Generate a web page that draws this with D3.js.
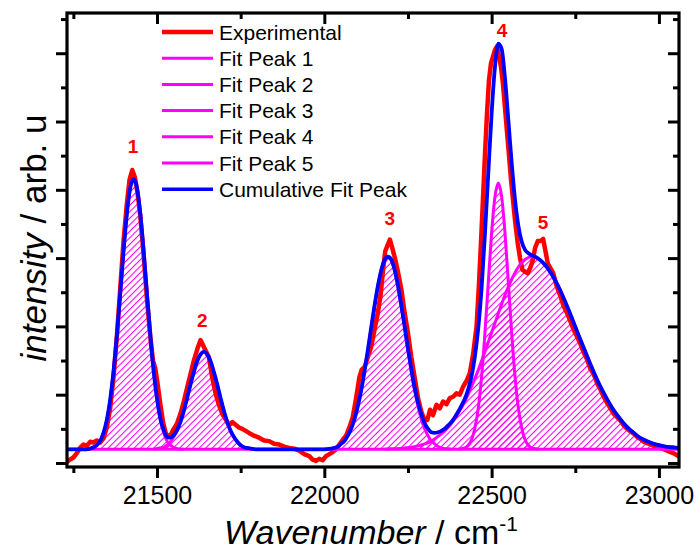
<!DOCTYPE html>
<html><head><meta charset="utf-8">
<script src="https://cdn.jsdelivr.net/npm/d3@7"></script>
<style>
body{margin:0;background:#fff}
svg{display:block}
text{font-family:Arial,"Liberation Sans",Helvetica,sans-serif}
</style>
</head><body>
<svg id="chart" width="697" height="553"></svg>
<script>
// ---------------- DATA ----------------
const xDomain = [21231, 23060];
const yDomain = [-0.059, 6.589];
const xMajorTicks = [21500, 22000, 22500, 23000];
const xMinorTicks = [21250, 21750, 22250, 22750];
const yMajorTicks = [0, 1, 2, 3, 4, 5, 6];
const yMinorTicks = [0.5, 1.5, 2.5, 3.5, 4.5, 5.5, 6.5];

const seriesNames = ["Experimental", "Fit Peak 1", "Fit Peak 2", "Fit Peak 3", "Fit Peak 4", "Fit Peak 5", "Cumulative Fit Peak"];

const fitBaseline = [[21231, 0.20], [23060, 0.20]];

const experimental = [
[21232,0.02],[21240,0.05],[21250,0.08],[21260,0.14],[21270,0.22],[21280,0.27],[21290,0.25],[21300,0.31],
[21310,0.30],[21320,0.33],[21330,0.30],[21340,0.36],[21350,0.52],[21360,0.80],[21370,1.25],[21380,1.85],
[21390,2.55],[21400,3.25],[21410,3.80],[21418,4.15],[21426,4.29],[21434,4.18],[21442,3.95],[21450,3.62],
[21460,3.05],[21470,2.40],[21480,1.85],[21488,1.50],[21495,1.38],[21502,1.15],[21510,0.86],[21518,0.60],
[21526,0.44],[21534,0.38],[21542,0.42],[21550,0.50],[21560,0.58],[21570,0.72],[21580,0.90],[21590,1.10],
[21600,1.30],[21610,1.50],[21620,1.66],[21630,1.80],[21638,1.72],[21646,1.64],[21655,1.55],[21665,1.25],
[21675,1.02],[21685,0.85],[21695,0.72],[21705,0.64],[21715,0.55],[21725,0.60],[21735,0.56],[21745,0.52],
[21755,0.50],[21765,0.47],[21775,0.44],[21790,0.40],[21805,0.37],[21820,0.33],[21835,0.32],[21850,0.28],
[21865,0.27],[21880,0.24],[21895,0.22],[21910,0.21],[21925,0.18],[21940,0.13],[21955,0.10],[21965,0.05],
[21975,0.03],[21985,0.06],[21995,0.04],[22005,0.10],[22015,0.13],[22025,0.16],[22035,0.20],[22045,0.27],
[22055,0.34],[22065,0.40],[22075,0.52],[22085,0.67],[22095,0.95],[22105,1.26],[22112,1.37],[22120,1.40],
[22130,1.55],[22140,1.70],[22150,1.95],[22160,2.20],[22168,2.45],[22175,2.80],[22182,3.10],[22190,3.20],
[22196,3.27],[22203,3.15],[22211,3.00],[22220,2.80],[22230,2.55],[22240,2.20],[22250,1.90],[22260,1.55],
[22270,1.25],[22280,0.95],[22290,0.75],[22300,0.62],[22308,0.63],[22316,0.78],[22325,0.70],[22335,0.85],
[22345,0.80],[22355,0.90],[22365,0.86],[22375,0.95],[22385,0.97],[22395,1.02],[22405,1.00],[22415,1.12],
[22425,1.20],[22435,1.32],[22445,1.60],[22455,2.00],[22462,2.60],[22468,3.20],[22474,3.85],[22480,4.50],
[22486,5.10],[22492,5.60],[22498,5.85],[22504,5.95],[22510,6.05],[22516,6.10],[22522,5.95],[22528,5.80],
[22534,5.55],[22540,5.20],[22546,4.85],[22552,4.50],[22558,4.15],[22564,3.85],[22570,3.55],[22578,3.22],
[22585,3.00],[22592,2.83],[22600,2.80],[22608,2.78],[22615,2.85],[22622,2.95],[22630,3.15],[22638,3.25],
[22646,3.25],[22654,3.28],[22661,3.10],[22668,2.92],[22676,2.85],[22684,2.78],[22694,2.60],[22705,2.45],
[22715,2.30],[22725,2.20],[22735,2.08],[22745,1.95],[22755,1.85],[22765,1.75],[22775,1.62],[22785,1.52],
[22795,1.38],[22805,1.30],[22815,1.17],[22825,1.08],[22835,0.97],[22845,0.88],[22855,0.80],[22865,0.72],
[22875,0.67],[22885,0.62],[22895,0.55],[22905,0.50],[22915,0.46],[22925,0.43],[22935,0.38],[22945,0.35],
[22955,0.31],[22965,0.29],[22975,0.27],[22985,0.25],[22995,0.23],[23005,0.22],[23015,0.20],[23025,0.18],
[23035,0.16],[23045,0.14],[23055,0.11],[23060,0.10]
];

const fitPeak1 = [
[21280,0.20],[21290,0.20],[21300,0.21],[21310,0.23],[21320,0.26],[21330,0.32],[21340,0.44],[21350,0.63],
[21360,0.93],[21370,1.34],[21380,1.87],[21390,2.48],[21400,3.10],[21410,3.65],[21420,4.03],[21430,4.16],
[21440,4.03],[21450,3.65],[21460,3.10],[21470,2.48],[21480,1.87],[21490,1.34],[21500,0.93],[21510,0.63],
[21520,0.44],[21530,0.32],[21540,0.26],[21550,0.23],[21560,0.21],[21570,0.20],[21580,0.20]
];
const fitPeak2 = [
[21490,0.20],[21500,0.21],[21510,0.22],[21520,0.23],[21530,0.26],[21540,0.31],[21550,0.38],[21560,0.47],
[21570,0.60],[21580,0.76],[21590,0.95],[21600,1.15],[21610,1.33],[21620,1.49],[21630,1.59],[21640,1.63],
[21650,1.59],[21660,1.49],[21670,1.33],[21680,1.15],[21690,0.95],[21700,0.76],[21710,0.60],[21720,0.47],
[21730,0.38],[21740,0.31],[21750,0.26],[21760,0.23],[21770,0.22],[21780,0.21],[21790,0.20]
];
const fitPeak3 = [
[22000,0.20],[22010,0.21],[22020,0.21],[22030,0.22],[22040,0.24],[22050,0.28],[22060,0.32],[22070,0.40],
[22080,0.50],[22090,0.64],[22100,0.83],[22110,1.06],[22120,1.34],[22130,1.65],[22140,1.98],[22150,2.30],
[22160,2.59],[22170,2.82],[22180,2.97],[22190,3.02],[22200,2.97],[22210,2.82],[22220,2.59],[22230,2.30],
[22240,1.98],[22250,1.65],[22260,1.34],[22270,1.06],[22280,0.83],[22290,0.64],[22300,0.50],[22310,0.40],
[22320,0.32],[22330,0.28],[22340,0.24],[22350,0.22],[22360,0.21],[22370,0.21],[22380,0.20]
];
const fitPeak4 = [
[22400,0.20],[22410,0.21],[22420,0.22],[22430,0.26],[22440,0.34],[22450,0.51],[22460,0.80],[22470,1.26],
[22480,1.90],[22490,2.64],[22500,3.37],[22510,3.90],[22520,4.10],[22530,3.90],[22540,3.37],[22550,2.64],
[22560,1.90],[22570,1.26],[22580,0.80],[22590,0.51],[22600,0.34],[22610,0.26],[22620,0.22],[22630,0.21],
[22640,0.20]
];
const fitPeak5 = [
[22180,0.20],[22200,0.21],[22220,0.21],[22240,0.22],[22260,0.23],[22280,0.25],[22300,0.28],[22320,0.32],
[22340,0.39],[22360,0.47],[22380,0.58],[22400,0.73],[22420,0.90],[22440,1.12],[22460,1.36],[22480,1.63],
[22500,1.91],[22520,2.19],[22540,2.46],[22560,2.69],[22580,2.87],[22600,2.98],[22620,3.02],[22640,2.99],
[22660,2.90],[22680,2.76],[22700,2.58],[22720,2.36],[22740,2.12],[22760,1.87],[22780,1.63],[22800,1.39],
[22820,1.17],[22840,0.98],[22860,0.81],[22880,0.67],[22900,0.55],[22920,0.46],[22940,0.38],[22960,0.33],
[22980,0.29],[23000,0.26],[23020,0.24],[23040,0.23],[23060,0.22]
];
const cumulativeFit = [
[21231,0.20],[21260,0.20],[21290,0.20],[21300,0.21],[21310,0.23],[21320,0.26],[21330,0.32],[21340,0.44],
[21350,0.63],[21360,0.93],[21370,1.34],[21380,1.87],[21390,2.48],[21400,3.10],[21410,3.65],[21420,4.03],
[21430,4.16],[21440,4.03],[21450,3.65],[21460,3.10],[21470,2.48],[21480,1.87],[21490,1.34],[21500,0.94],
[21510,0.65],[21520,0.48],[21530,0.38],[21540,0.37],[21550,0.41],[21560,0.48],[21570,0.60],[21580,0.76],
[21590,0.95],[21600,1.15],[21610,1.33],[21620,1.49],[21630,1.59],[21640,1.63],[21650,1.59],[21660,1.49],
[21670,1.33],[21680,1.15],[21690,0.95],[21700,0.76],[21710,0.60],[21720,0.47],[21730,0.38],[21740,0.31],
[21750,0.26],[21760,0.23],[21770,0.22],[21780,0.21],[21800,0.20],[21900,0.20],[22000,0.20],[22020,0.21],
[22040,0.24],[22050,0.28],[22060,0.32],[22070,0.40],[22080,0.50],[22090,0.64],[22100,0.83],[22110,1.06],
[22120,1.34],[22130,1.65],[22140,1.98],[22150,2.30],[22160,2.59],[22170,2.82],[22180,2.97],[22190,3.02],
[22200,2.98],[22210,2.83],[22220,2.60],[22230,2.31],[22240,2.00],[22250,1.67],[22260,1.37],[22270,1.10],
[22280,0.88],[22290,0.71],[22300,0.58],[22310,0.50],[22320,0.45],[22330,0.44],[22340,0.45],[22350,0.47],
[22360,0.50],[22370,0.55],[22380,0.60],[22390,0.67],[22400,0.75],[22410,0.84],[22420,0.94],[22430,1.08],
[22440,1.27],[22450,1.56],[22460,1.97],[22470,2.56],[22480,3.35],[22490,4.24],[22500,5.12],[22510,5.80],
[22520,6.14],[22530,6.06],[22540,5.63],[22550,5.02],[22560,4.39],[22570,3.85],[22580,3.47],[22590,3.24],
[22600,3.12],[22610,3.07],[22620,3.04],[22630,3.02],[22640,2.99],[22660,2.90],[22680,2.76],[22700,2.58],
[22720,2.36],[22740,2.12],[22760,1.87],[22780,1.63],[22800,1.39],[22820,1.17],[22840,0.98],[22860,0.81],
[22880,0.67],[22900,0.55],[22920,0.46],[22940,0.38],[22960,0.33],[22980,0.29],[23000,0.26],[23020,0.24],
[23040,0.23],[23060,0.22]
];

const peakLabelText = ["1", "2", "3", "4", "5"];
const peakLabelX = [21428, 21635, 22196, 22531, 22654];
const peakLabelY = [4.64, 2.09, 3.59, 6.34, 3.53];

// ---------------- DRAW ----------------
const plot = {left: 67, right: 679, top: 13, bottom: 467};
const RED = "#ff0000", PINK = "#ff00ff", BLUE = "#0000ff";

const svg = d3.select("#chart");
const x = d3.scaleLinear().domain(xDomain).range([plot.left, plot.right]);
const y = d3.scaleLinear().domain(yDomain).range([plot.bottom, plot.top]);

const defs = svg.append("defs");
defs.append("clipPath").attr("id", "clip").append("rect")
  .attr("x", plot.left).attr("y", plot.top)
  .attr("width", plot.right - plot.left).attr("height", plot.bottom - plot.top);
const pat = defs.append("pattern").attr("id", "hatch")
  .attr("patternUnits", "userSpaceOnUse").attr("width", 4.6).attr("height", 4.6)
  .attr("patternTransform", "rotate(45)");
pat.append("line").attr("x1", 2.3).attr("y1", 0).attr("x2", 2.3).attr("y2", 4.6)
  .attr("stroke", PINK).attr("stroke-width", 1.1);

const g = svg.append("g").attr("clip-path", "url(#clip)");

const line = d3.line().x(d => x(d[0])).y(d => y(d[1]));
const smooth = d3.line().x(d => x(d[0])).y(d => y(d[1])).curve(d3.curveMonotoneX);
const area = d3.area().x(d => x(d[0])).y0(y(fitBaseline[0][1])).y1(d => y(d[1])).curve(d3.curveMonotoneX);

const peaks = [fitPeak1, fitPeak2, fitPeak3, fitPeak4, fitPeak5];

// hatched areas
peaks.forEach(p => g.append("path").datum(p).attr("d", area).attr("fill", "url(#hatch)"));

// experimental
g.append("path").datum(experimental).attr("d", line)
  .attr("fill", "none").attr("stroke", RED).attr("stroke-width", 4.5)
  .attr("stroke-linejoin", "round").attr("stroke-linecap", "round");

// baseline + fit peaks
g.append("path").datum(fitBaseline).attr("d", line)
  .attr("fill", "none").attr("stroke", PINK).attr("stroke-width", 3);
peaks.forEach(p => g.append("path").datum(p).attr("d", smooth)
  .attr("fill", "none").attr("stroke", PINK).attr("stroke-width", 3).attr("stroke-linejoin", "round"));

// cumulative
g.append("path").datum(cumulativeFit).attr("d", smooth)
  .attr("fill", "none").attr("stroke", BLUE).attr("stroke-width", 3.8).attr("stroke-linejoin", "round");

// peak labels
svg.append("g").selectAll("text").data(peakLabelText).join("text")
  .attr("x", (d, i) => x(peakLabelX[i])).attr("y", (d, i) => y(peakLabelY[i]))
  .attr("dy", "0.36em").attr("text-anchor", "middle")
  .attr("font-size", 19).attr("font-weight", "bold").attr("fill", RED)
  .text(d => d);

// axes
function styleAxis(sel) {
  sel.select(".domain").remove();
  sel.selectAll(".tick line").attr("stroke", "#000").attr("stroke-width", 3);
}
const axB = svg.append("g").attr("transform", `translate(0,${plot.bottom})`)
  .call(d3.axisBottom(x).tickValues(xMajorTicks).tickSize(11).tickPadding(8).tickFormat(d3.format("d")));
styleAxis(axB);
axB.selectAll("text").attr("font-size", 25).attr("fill", "#000")
  .attr("font-family", "Arial, 'Liberation Sans', sans-serif");
const axBm = svg.append("g").attr("transform", `translate(0,${plot.bottom})`)
  .call(d3.axisBottom(x).tickValues(xMinorTicks).tickSize(6).tickFormat(""));
styleAxis(axBm);

const axT = svg.append("g").attr("transform", `translate(0,${plot.top})`)
  .call(d3.axisTop(x).tickValues(xMajorTicks).tickSize(-11).tickFormat(""));
styleAxis(axT);
const axTm = svg.append("g").attr("transform", `translate(0,${plot.top})`)
  .call(d3.axisTop(x).tickValues(xMinorTicks).tickSize(-6).tickFormat(""));
styleAxis(axTm);

const axL = svg.append("g").attr("transform", `translate(${plot.left},0)`)
  .call(d3.axisLeft(y).tickValues(yMajorTicks).tickSize(11).tickFormat(""));
styleAxis(axL);
const axLm = svg.append("g").attr("transform", `translate(${plot.left},0)`)
  .call(d3.axisLeft(y).tickValues(yMinorTicks).tickSize(6).tickFormat(""));
styleAxis(axLm);

const axR = svg.append("g").attr("transform", `translate(${plot.right},0)`)
  .call(d3.axisRight(y).tickValues(yMajorTicks).tickSize(-11).tickFormat(""));
styleAxis(axR);
const axRm = svg.append("g").attr("transform", `translate(${plot.right},0)`)
  .call(d3.axisRight(y).tickValues(yMinorTicks).tickSize(-6).tickFormat(""));
styleAxis(axRm);

// frame
svg.append("rect").attr("x", plot.left).attr("y", plot.top)
  .attr("width", plot.right - plot.left).attr("height", plot.bottom - plot.top)
  .attr("fill", "none").attr("stroke", "#000").attr("stroke-width", 3.2);

// axis titles
const xt = svg.append("text").attr("x", 371).attr("y", 544).attr("text-anchor", "middle")
  .attr("font-size", 34).attr("fill", "#000");
xt.append("tspan").attr("font-style", "italic").text("Wavenumber");
xt.append("tspan").text(" / cm");
xt.append("tspan").attr("font-size", 21).attr("dy", -13).text("-1");

const yt = svg.append("text").attr("transform", "translate(46,238) rotate(-90)")
  .attr("text-anchor", "middle").attr("font-size", 35).attr("fill", "#000");
yt.append("tspan").attr("font-style", "italic").text("intensity");
yt.append("tspan").text(" / arb. u");

// legend
const legColors = [RED, PINK, PINK, PINK, PINK, PINK, BLUE];
const legWidths = [4.5, 3, 3, 3, 3, 3, 3.5];
const leg = svg.append("g");
seriesNames.forEach((name, i) => {
  const cy = 32 + i * 26.2;
  leg.append("line").attr("x1", 162).attr("x2", 213).attr("y1", cy).attr("y2", cy)
    .attr("stroke", legColors[i]).attr("stroke-width", legWidths[i]);
  leg.append("text").attr("x", 219).attr("y", cy).attr("dy", "0.36em")
    .attr("font-size", 21).attr("fill", "#000").text(name);
});
</script>
</body></html>
